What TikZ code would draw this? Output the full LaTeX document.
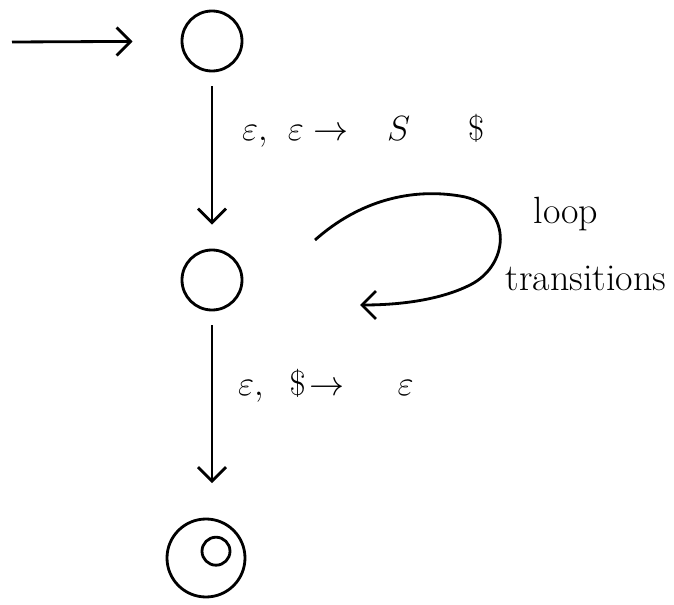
\documentclass[tikz,border=0pt]{standalone}
\usepackage{tikz}
\usetikzlibrary{arrows.meta, positioning}
\usepackage{amsmath}

\begin{document}
\begin{tikzpicture}[
    >={Straight Barb[length=3.5mm, width=7mm]},
    line width=2pt,
    state/.style={draw, circle, minimum size=1.5cm, inner sep=0pt},
    lbl/.style={font=\fontsize{34}{40}\selectfont},
    note/.style={font=\fontsize{27}{30}\selectfont}
  ]
  \useasboundingbox (0,0) rectangle (16.85,-15.125);

  \node[state] (qstart) at (5.3,-1.025) {};
  \node[state] (qloop) at (5.3,-7.0) {};
  \node[state, minimum size=1.95cm] (qacc) at (5.15,-13.95) {};
  \node[state, minimum size=0.7cm] (qaccin) at (5.4,-13.78) {};
  \coordinate (entry) at (0.3,-1.05);

  \draw[->, shorten >=1.2cm] (entry) -- (qstart);
  \draw[->, shorten <=0.35cm, shorten >=0.6cm] (qstart) -- (qloop)
    node[pos=0.33, right=0.6cm, lbl] {$\varepsilon,\ \varepsilon \to\ \ S\ \ \ \ \$$};
  \draw[->, shorten <=0.35cm, shorten >=1.875cm] (qloop) -- (qloop |- qacc)
    node[pos=0.3, right=0.5cm, lbl] {$\varepsilon,\ \,\$\!\to\ \ \ \varepsilon$};

  % loop drawn beside the middle state
  \coordinate (loopa) at (7.875,-6.0);
  \coordinate (loopb) at (9.0,-7.625);
  \draw[->] (loopa) .. controls (9.0,-5.0) and (10.3,-4.7) .. (11.5,-4.9)
    .. controls (12.8,-5.1) and (12.8,-6.6) .. (11.75,-7.125)
    .. controls (11.0,-7.5) and (10.0,-7.625) .. (loopb);
  \node[note] (looptxt) at (14.15,-5.35) {loop};
  \node[note] (transtxt) at (14.65,-6.95) {transitions};
\end{tikzpicture}
\end{document}
